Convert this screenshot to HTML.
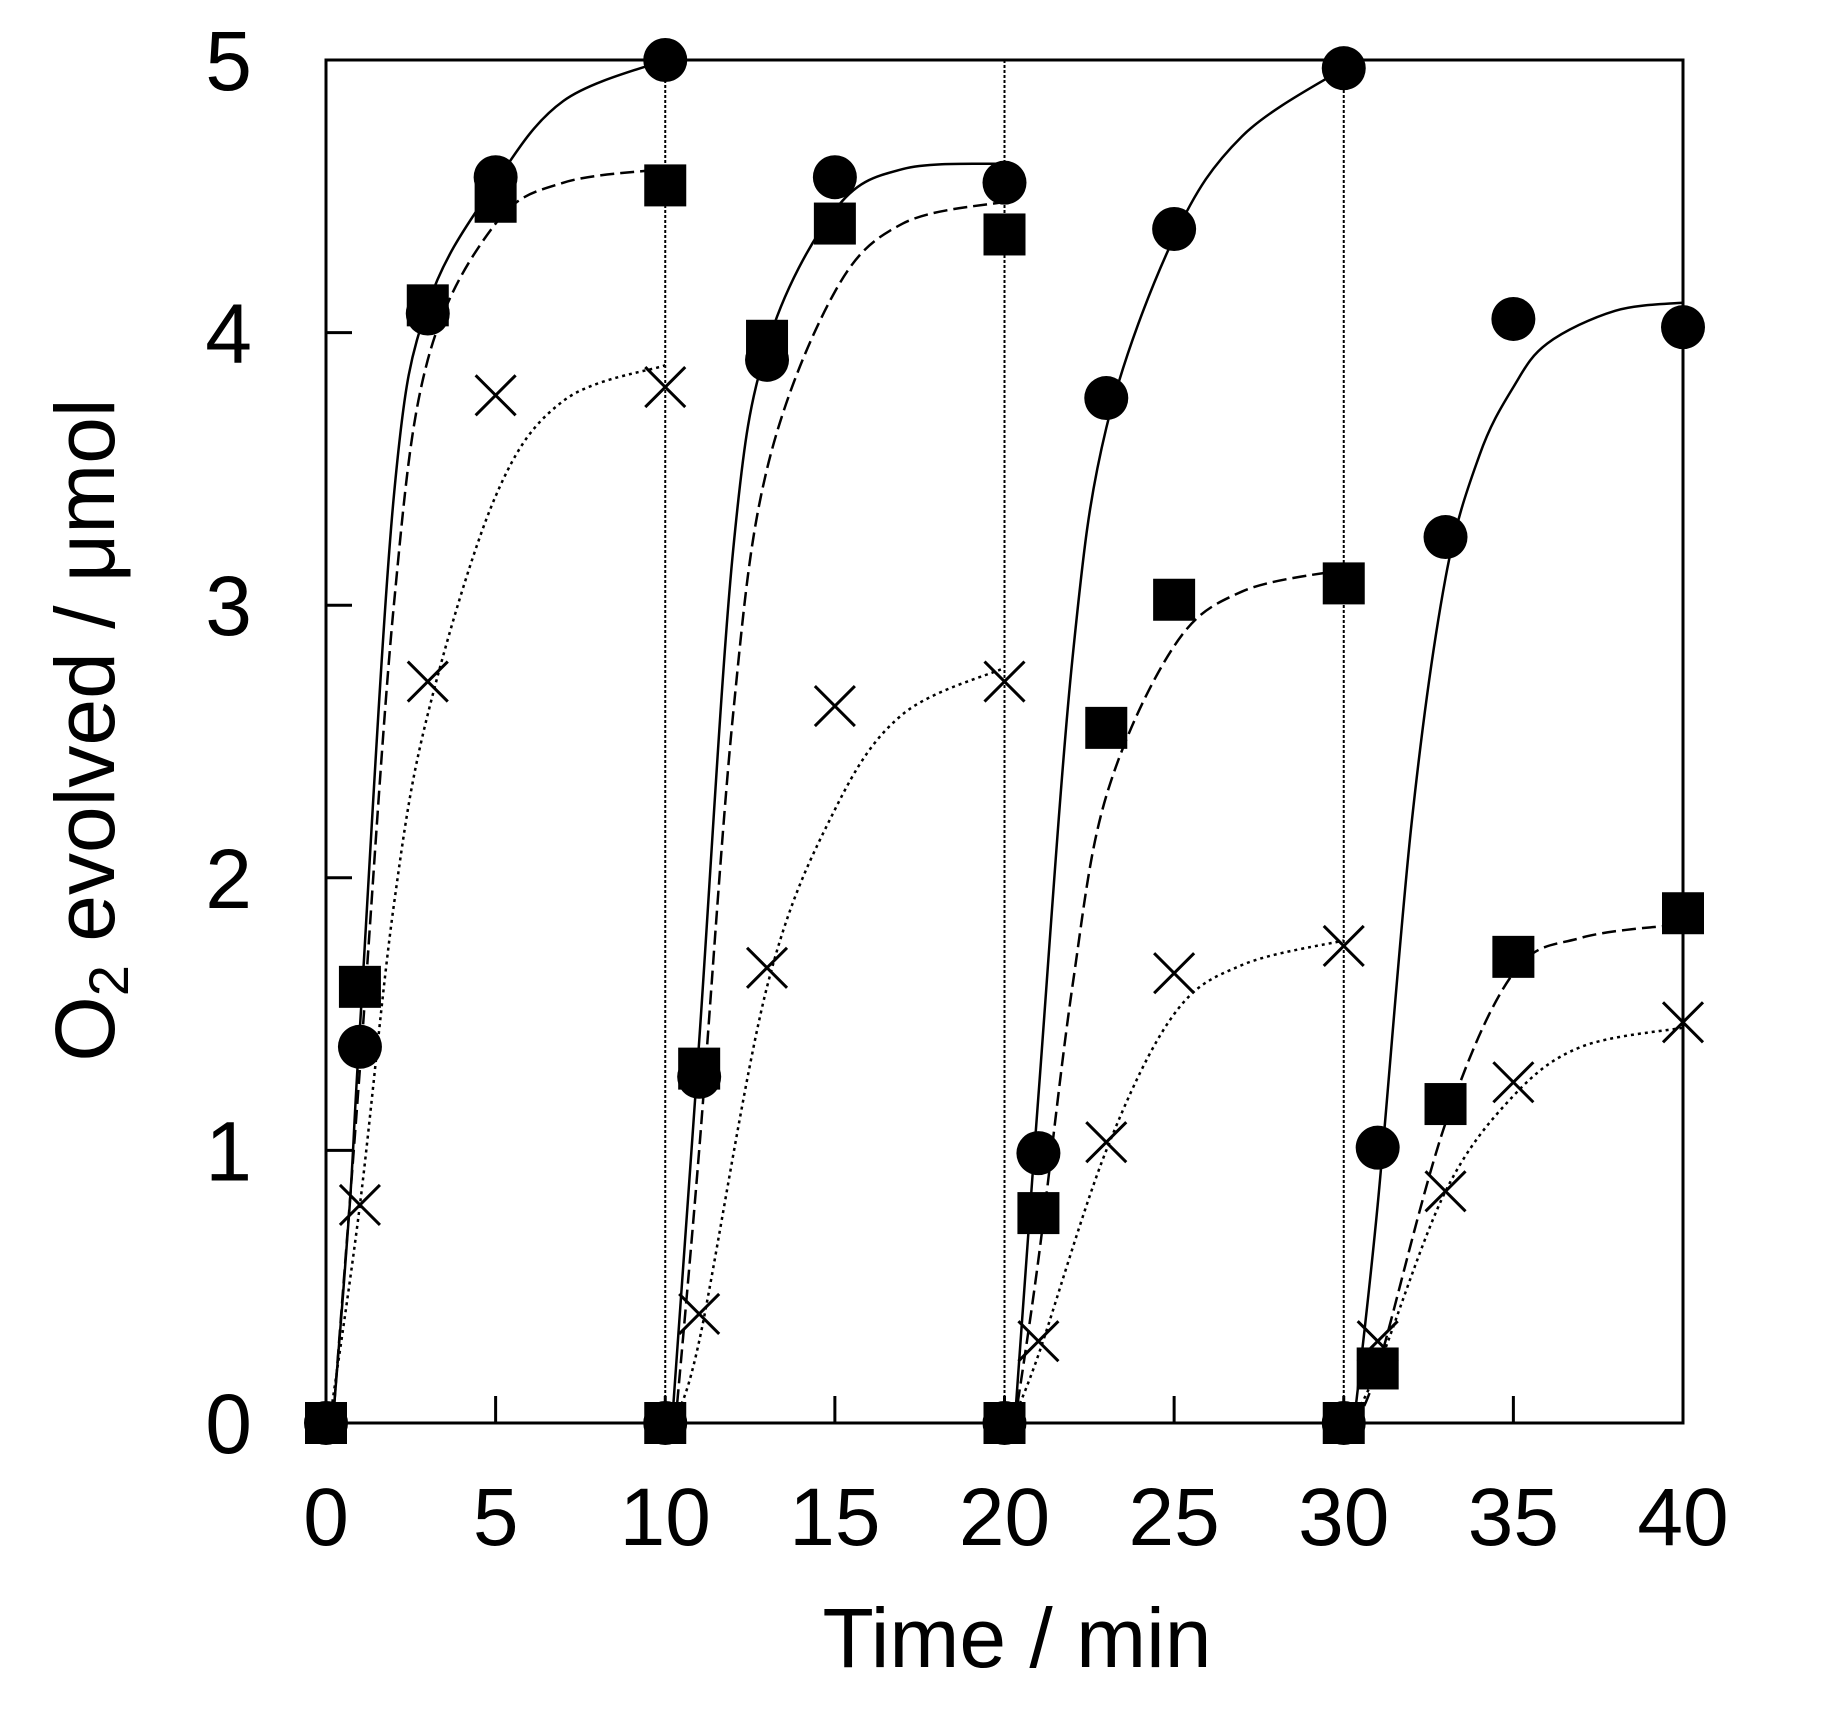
<!DOCTYPE html>
<html><head><meta charset="utf-8">
<style>html,body{margin:0;padding:0;background:#fff;}svg{display:block;}</style>
</head><body>
<svg id="s" width="1840" height="1717" viewBox="0 0 1840 1717" xmlns="http://www.w3.org/2000/svg" font-family="Liberation Sans, sans-serif">
<rect x="0" y="0" width="1840" height="1717" fill="#fff"/>
<g id="grid"></g>
<g id="curves" fill="none" stroke="#000" stroke-width="2.5"></g>
<rect x="326" y="60" width="1357" height="1363" fill="none" stroke="#000" stroke-width="3"/>
<g id="ticks" stroke="#000" stroke-width="3"></g>
<g id="marks"></g>
<g font-size="82" fill="#000" text-anchor="middle" id="xl"></g>
<g font-size="84" fill="#000" text-anchor="end" id="yl"></g>
<text x="1017" y="1667" font-size="84" text-anchor="middle">Time / min</text>
<text transform="translate(114,730) rotate(-90)" font-size="84" text-anchor="middle">O<tspan font-size="56" dy="14">2</tspan><tspan dy="-14"> evolved / μmol</tspan></text>
</svg>
<script>
var NS="http://www.w3.org/2000/svg";
function X(t){return 326+t*33.925;}
function Y(v){return 1423-v*272.6;}
function el(p,n,a){var e=document.createElementNS(NS,n);for(var k in a)e.setAttribute(k,a[k]);document.getElementById(p).appendChild(e);return e;}
[10,20,30].forEach(function(t){el("grid","line",{x1:X(t),x2:X(t),y1:60,y2:1423,stroke:"#000","stroke-width":2,"stroke-dasharray":"3 2"});});
for(var t=0;t<=40;t+=5){el("ticks","line",{x1:X(t),x2:X(t),y1:1423,y2:1396});var tx=el("xl","text",{x:X(t),y:1545});tx.textContent=t;}
for(var v=0;v<=5;v++){el("ticks","line",{x1:326,x2:352,y1:Y(v),y2:Y(v)});var ty=el("yl","text",{x:252,y:Y(v)+30});ty.textContent=v;}
function path(pts){var P=pts.map(function(p){return [X(p[0]),Y(p[1])];});
 var d="M"+P[0][0]+","+P[0][1];
 for(var i=0;i<P.length-1;i++){var p0=P[Math.max(i-1,0)],p1=P[i],p2=P[i+1],p3=P[Math.min(i+2,P.length-1)];
  var c1=[p1[0]+(p2[0]-p0[0])/6,p1[1]+(p2[1]-p0[1])/6],c2=[p2[0]-(p3[0]-p1[0])/6,p2[1]-(p3[1]-p1[1])/6];
  d+="C"+c1+" "+c2+" "+p2;}
 return d;}
var S=[[[0.2,0],[0.7,0.8],[1,1.45],[2,3.4],[3,4.1],[5,4.55],[7,4.85],[10,5.0]],
[[10.2,0],[11,1.4],[12,3.2],[13,3.95],[15,4.45],[17,4.6],[20,4.62]],
[[20.3,0],[21,1.2],[22,2.8],[23,3.65],[25,4.35],[27,4.72],[30,4.97]],
[[30.3,0],[31,0.8],[32,2.2],[33,3.1],[34,3.55],[35,3.8],[36,3.96],[38,4.08],[40,4.11]]];
var D=[[[0.2,0],[1,1.3],[2,3.0],[3,3.9],[5,4.4],[7,4.55],[10,4.6]],
[[10.3,0],[11,1.0],[12,2.6],[13,3.5],[15,4.15],[17,4.4],[20,4.48]],
[[20.3,0],[21,0.6],[22,1.6],[23,2.3],[25,2.85],[27,3.05],[30,3.13]],
[[30.3,0],[31,0.2],[33,1.1],[35,1.65],[37,1.78],[40,1.83]]];
var O=[[[0.1,0],[1,0.8],[2,1.9],[3,2.6],[5,3.4],[7,3.75],[10,3.88]],
[[10.2,0],[11,0.3],[13,1.6],[15,2.25],[17,2.6],[20,2.77]],
[[20.2,0],[21,0.25],[23,1.0],[25,1.5],[27,1.68],[30,1.77]],
[[30.2,0],[31,0.2],[33,0.85],[35,1.2],[37,1.38],[40,1.45]]];
S.forEach(function(p){el("curves","path",{d:path(p)});});
D.forEach(function(p){el("curves","path",{d:path(p),"stroke-dasharray":"14 6"});});
O.forEach(function(p){el("curves","path",{d:path(p),"stroke-dasharray":"3 4"});});
var circ=[[0,0],[1,1.38],[3,4.07],[5,4.57],[10,5.0],[10,0],[11,1.27],[13,3.9],[15,4.57],[20,4.55],[20,0],[21,0.99],[23,3.76],[25,4.38],[30,4.97],[30,0],[31,1.01],[33,3.25],[35,4.05],[40,4.02]];
var sq=[[0,0],[1,1.6],[3,4.1],[5,4.48],[10,4.54],[10,0],[11,1.3],[13,3.97],[15,4.4],[20,4.36],[20,0],[21,0.77],[23,2.55],[25,3.02],[30,3.08],[30,0],[31,0.2],[33,1.17],[35,1.71],[40,1.87]];
var xs=[[1,0.8],[3,2.72],[5,3.77],[10,3.8],[11,0.4],[13,1.67],[15,2.63],[20,2.72],[21,0.3],[23,1.03],[25,1.65],[30,1.75],[31,0.3],[33,0.85],[35,1.25],[40,1.47]];
xs.forEach(function(p){var x=X(p[0]),y=Y(p[1]),r=20;el("marks","path",{d:"M"+(x-r)+","+(y-r)+"L"+(x+r)+","+(y+r)+"M"+(x-r)+","+(y+r)+"L"+(x+r)+","+(y-r),stroke:"#000","stroke-width":3,fill:"none"});});
circ.forEach(function(p){el("marks","circle",{cx:X(p[0]),cy:Y(p[1]),r:22,fill:"#000"});});
sq.forEach(function(p){el("marks","rect",{x:X(p[0])-21,y:Y(p[1])-21,width:42,height:42,fill:"#000"});});
</script>
</body></html>
